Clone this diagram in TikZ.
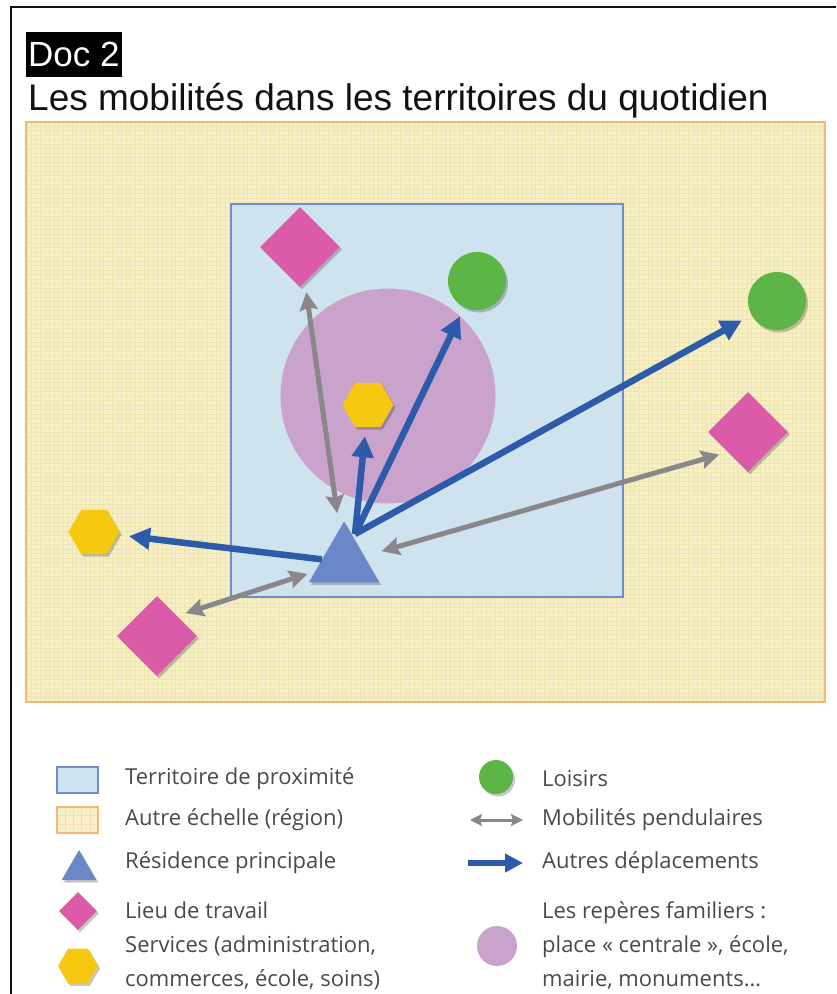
\documentclass[tikz,border=0pt]{standalone}
\usepackage{fontspec}
\setmainfont{Liberation Sans}
\newfontfamily\legfont{Open Sans}
\usetikzlibrary{arrows.meta,shapes.geometric,shadows}
\definecolor{ink}{HTML}{111111}
\definecolor{legink}{HTML}{4A4A4A}
\definecolor{cyel}{HTML}{F7F0C6}
\definecolor{cyelg}{HTML}{EEE4B0}
\definecolor{corg}{HTML}{F1B878}
\definecolor{lblue}{HTML}{CFE3EE}
\definecolor{cblue}{HTML}{6F8DC6}
\definecolor{cmauve}{HTML}{C9A3CB}
\definecolor{cpink}{HTML}{DC5BA8}
\definecolor{cgreen}{HTML}{5DB546}
\definecolor{cgold}{HTML}{F6C810}
\definecolor{ctri}{HTML}{6A87C9}
\definecolor{carr}{HTML}{2D5BA9}
\definecolor{cgray}{HTML}{8A878B}
\tikzset{
  shd/.style={drop shadow={shadow xshift=2pt,shadow yshift=-2.5pt,fill=black,opacity=0.22}},
  travail/.style={diamond,fill=cpink,inner sep=0pt,minimum size=80pt,shd},
  loisir/.style={circle,fill=cgreen,inner sep=0pt,minimum size=58pt,shd},
  service/.style={regular polygon,regular polygon sides=6,fill=cgold,inner sep=0pt,minimum size=51pt,shd},
  maison/.style={regular polygon,regular polygon sides=3,fill=ctri,inner sep=0pt,minimum size=81pt,shd},
  depl/.style={-{Triangle[length=21pt,width=21pt]},draw=carr,line width=6.5pt},
  pendul/.style={{Stealth[length=18pt,width=18pt,inset=2.5pt]}-{Stealth[length=18pt,width=18pt,inset=2.5pt]},draw=cgray,line width=5pt},
  legtxt/.style={anchor=west,inner sep=0pt,text=legink,font=\legfont\fontsize{22}{34}\selectfont,align=left},
  bigtxt/.style={font=\fontsize{35}{40}\selectfont,text=ink},
}
\begin{document}
\begin{tikzpicture}[x=1pt,y=1pt]
  \useasboundingbox (0,0) rectangle (836,-994);
  \fill[white] (0,0) rectangle (836,-994);
  \draw[ink,line width=1.5pt] (836,-7) -- (11,-7) -- (11,-994);
  \node[bigtxt,fill=black,text=white,inner sep=2pt,minimum height=45pt,anchor=west] (doc) at (26,-54.5) {Doc 2};
  \node[bigtxt,font=\fontsize{37}{40}\selectfont,inner sep=0pt,anchor=base west] (titre) at (28,-110) {Les mobilités dans les territoires du quotidien};
  \fill[cyel] (26,-122) rectangle (825,-702);
  \draw[cyelg,line width=0.5pt,step=4.5] (26,-122) grid (825,-702);
  \draw[corg,line width=1.5pt] (26,-122) rectangle (825,-702);
  \draw[cblue,fill=lblue,line width=1.8pt] (231,-204) rectangle (623,-597);
  \node[circle,fill=cmauve,minimum size=215pt,inner sep=0pt] (place) at (388,-396) {};
  \node[travail] (wtop) at (300,-247) {};
  \node[loisir] (lin) at (477,-281) {};
  \node[loisir] (lout) at (777,-301) {};
  \node[service] (sin) at (368,-405) {};
  \node[travail] (wright) at (748,-432) {};
  \node[service] (sout) at (94,-532) {};
  \node[maison] (res) at (344,-562) {};
  \node[travail] (wbl) at (157,-636) {};
  \coordinate (hub) at (355,-534);
  \draw[pendul,shorten <=10pt,shorten >=16pt] (wtop) -- (res);
  \draw[pendul,shorten <=18pt,shorten >=9pt] (res) -- (wright.south west);
  \draw[pendul,shorten <=9pt,shorten >=8pt] (wbl.north east) -- (res);
  \draw[depl,shorten >=10pt] (hub) -- (lin);
  \draw[depl,shorten >=9pt] (hub) -- (sin);
  \draw[depl,shorten >=11pt] (hub) -- (lout);
  \draw[depl,shorten >=11pt] (res) -- (sout);
  \draw[cblue,fill=lblue,line width=1.5pt] (57,-767) rectangle (98,-793);
  \fill[cyel] (57,-807) rectangle (98,-833);
  \draw[corg!55,line width=0.6pt,xshift=57pt,yshift=-833pt,xstep=8.2,ystep=8.67] (0,0) grid (41,26);
  \draw[corg,line width=1.5pt] (57,-807) rectangle (98,-833);
  \node[maison,minimum size=40pt] (ltri) at (79,-870) {};
  \node[travail,minimum size=38pt] (lwork) at (78,-911) {};
  \node[service,minimum size=40pt] (lserv) at (78,-966) {};
  \node[loisir,minimum size=34pt] (lfun) at (496,-777) {};
  \coordinate (pa) at (470,-820);
  \coordinate (pb) at (523,-820);
  \draw[pendul,line width=3pt,{Stealth[length=12pt,width=12pt,inset=2pt]}-{Stealth[length=12pt,width=12pt,inset=2pt]}] (pa) -- (pb);
  \coordinate (da) at (468,-863);
  \coordinate (db) at (523,-863);
  \draw[depl,-{Triangle[length=18pt,width=18pt]}] (da) -- (db);
  \node[circle,fill=cmauve,minimum size=40pt,inner sep=0pt] (lmauve) at (497,-946) {};
  \node[legtxt] (t1) at (125,-779) {Territoire de proximité};
  \node[legtxt] (t2) at (125,-820) {Autre échelle (région)};
  \node[legtxt] (t3) at (125,-863) {Résidence principale};
  \node[legtxt] (t4) at (125,-910) {Lieu de travail};
  \node[legtxt] (t5) at (125,-963) {Services (administration,\\commerces, école, soins)};
  \node[legtxt] (t6) at (542,-779) {Loisirs};
  \node[legtxt] (t7) at (542,-820) {Mobilités pendulaires};
  \node[legtxt] (t8) at (542,-863) {Autres déplacements};
  \node[legtxt] (t9) at (542,-945) {Les repères familiers :\\place «~centrale~», école,\\mairie, monuments…};
\end{tikzpicture}
\end{document}
